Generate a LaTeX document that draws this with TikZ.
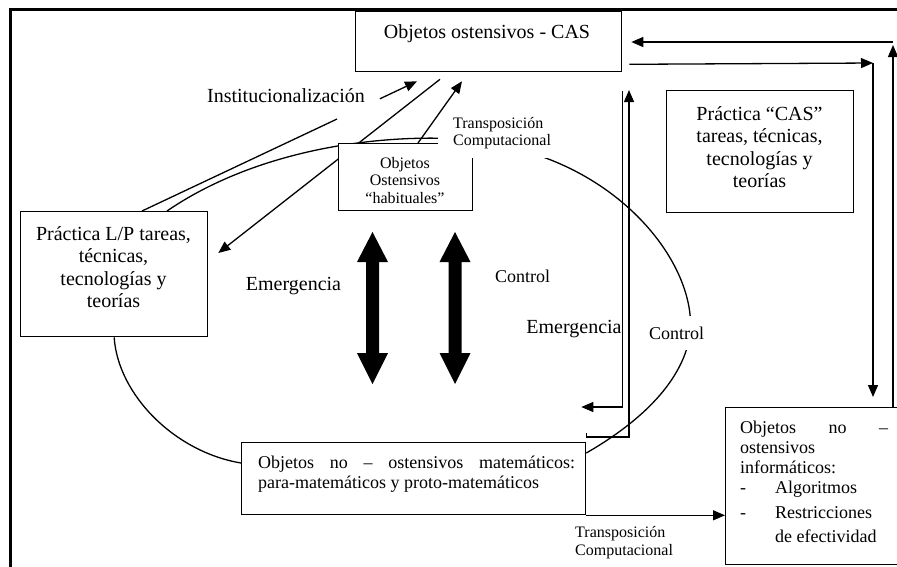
\documentclass[tikz,border=0pt]{standalone}
\usepackage{fontspec}
\setmainfont{Liberation Serif}
\usetikzlibrary{arrows.meta,calc}

\begin{document}
\begin{tikzpicture}[x=1pt,y=-1pt,
  box/.style={draw, line width=1.3pt, fill=white, inner sep=0pt, anchor=north west},
  conn/.style={line width=1.3pt},
  arr/.style={conn, -{Triangle[length=12pt,width=10pt]}},
  big/.style={font=\fontsize{20}{22.5}\selectfont},
  mid/.style={font=\fontsize{18}{20}\selectfont},
  small/.style={font=\fontsize{16}{17.5}\selectfont},
  lbl/.style={inner sep=0pt, anchor=base},
  bigarrow/.pic={
    \fill (-6.5,262) -- (-15.5,262) -- (0,232) -- (15.5,262) -- (6.5,262)
       -- (6.5,353) -- (15.5,353) -- (0,384) -- (-15.5,353) -- (-6.5,353) -- cycle;
  }
]
\useasboundingbox (0,0) rectangle (897,566);
\clip (0,0) rectangle (897,566);

% outer frame
\draw[line width=2.5pt] (10.5,570) -- (10.5,9.5) -- (900,9.5);

% boxes
\node[box, minimum width=266pt, minimum height=60pt]  (cas)  at (355,11)  {};
\node[box, minimum width=187pt, minimum height=122pt] (pcas) at (666,90)  {};
\node[box, minimum width=187pt, minimum height=125pt] (lp)   at (20,211)  {};
\node[box, minimum width=344pt, minimum height=72pt]  (onm)  at (241,442) {};
\node[box, minimum width=190pt, minimum height=157pt] (oni)  at (725,407) {};

% attachment points
\coordinate (lpTopA) at ($(lp.north west)+(122,0)$);
\coordinate (lpTopB) at ($(lp.north west)+(147,0)$);
\coordinate (onmL)   at ($(onm.north west)+(0,21)$);
\coordinate (onmR)   at ($(onm.north east)+(0,11)$);
\coordinate (insE)   at ($(cas.south west)+(62,9)$);
\coordinate (casA)   at ($(cas.south west)+(85,7)$);
\coordinate (lpR)    at ($(lp.north east)+(10,42)$);

% the closed loop of the practices
\draw[conn] (lp.south) .. controls (118,395) and (175,452) .. (onmL);
\draw[conn] (onmR) .. controls (635,425) and (682,385) .. (690,335)
  .. controls (697,275) and (640,192) .. (543,157)
  .. controls (500,130) and (300,120) .. (lpTopB);

% institutionalization
\draw[conn] (lpTopA) -- ($(lpTopA)!0.709!(insE)$);
\draw[arr] ($(lpTopA)!0.865!(insE)$) -- (insE);

% from CAS objects back to the L/P practice
\draw[arr] (casA) -- (lpR);

% usual ostensive objects
\node[box, minimum width=134pt, minimum height=67pt] (hab) at (338,143) {};
\node[small, lbl, align=center] at (405,203) {Objetos\\Ostensivos\\“habituales”};

% computational transposition (upper)
\fill[white] ($(hab.north east)+(-35,-38)$) rectangle ($(hab.north east)+(84,15)$);
\node[small, lbl, anchor=base west, align=left, font=\fontsize{16}{17}\selectfont] (tcu) at (453,145) {Transposición\\Computacional};
\draw[arr] ($(hab.north west)+(80,0)$) -- ($(cas.south west)+(107,9)$);

% emergence / control double arrows
\pic at (372.5,0) {bigarrow};
\pic at (455,0) {bigarrow};

% vertical links between CAS and the mathematical objects
\draw[arr] ($(cas.south east)+(0,19)$) |- ($(onm.north east)+(-5,-35)$);
\draw[arr] ($(onm.north east)+(0,-9)$) -- ($(onm.north east)+(0,-5)$) -| (629,90);

% links with the computing objects
\draw[arr] ($(cas.south east)+(7,-8)$) -- (873,63);
\draw[arr] (873,63) -- ($(oni.north west)+(148,-10)$);
\draw[arr] ($(oni.north west)+(168,0)$) -- (893,45);
\draw[arr] (893,42) -- ($(cas.north east)+(9,31)$);
\draw[arr] (onm.south east) -- (oni.west |- onm.south east);

% texts
\node[big, lbl] at (487,38) {Objetos ostensivos - CAS};
\node[big, lbl] at (286,102) {Institucionalización};
\node[big, lbl, align=center] at (759.5,187.5) {Práctica “CAS”\\tareas, técnicas,\\tecnologías y\\teorías};
\node[big, lbl, align=center] at (113.5,307.5) {Práctica L/P tareas,\\técnicas,\\tecnologías y\\teorías};
\node[big, lbl] at (293.5,290) {Emergencia};
\node[mid, lbl] at (522.5,282) {Control};
\node[big, lbl] at (574,333) {Emergencia};
\node[mid, lbl, fill=white, inner xsep=1pt, inner ysep=11pt] at (676.5,339) {Control};
\node[mid, lbl, anchor=base west, align=left] at (258,488)
  {\makebox[317pt][s]{Objetos no – ostensivos matemáticos:}\\para-matemáticos y proto-matemáticos};
\node[small, lbl, anchor=base west, align=left, font=\fontsize{16}{18}\selectfont] at (575,555) {Transposición\\Computacional};
\node[mid, lbl, anchor=base west, align=left] at (740,542)
  {\makebox[148pt][s]{Objetos no –}\\ostensivos\\informáticos:\\\makebox[35pt][l]{-}Algoritmos\\[5pt]\makebox[35pt][l]{-}Restricciones\\[4pt]\hspace*{35pt}de efectividad};
\end{tikzpicture}
\end{document}
